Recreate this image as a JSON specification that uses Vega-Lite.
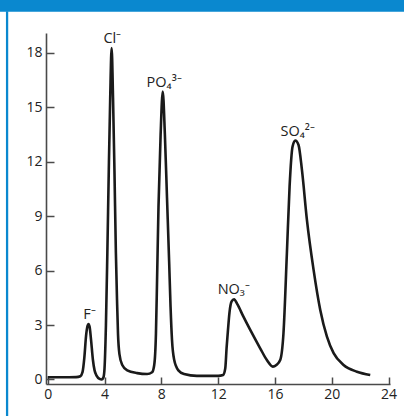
{
  "$schema": "https://vega.github.io/schema/vega-lite/v6.json",
  "width": 344,
  "height": 351,
  "autosize": {"type": "none"},
  "padding": {"left": 46, "top": 33, "right": 14, "bottom": 32},
  "background": "white",
  "config": {
    "view": {"stroke": null},
    "font": "Open Sans",
    "axis": {
      "grid": false,
      "domainColor": "#4a4a4a",
      "domainWidth": 1.6,
      "tickColor": "#4a4a4a",
      "tickWidth": 1.5,
      "labelColor": "#222222",
      "labelFontSize": 14,
      "labelFont": "Open Sans",
      "title": null
    }
  },
  "datasets": {
    "trace": [
      {"t": 0.0, "s": 0.12}, {"t": 1.0, "s": 0.12}, {"t": 2.0, "s": 0.13}, {"t": 2.3, "s": 0.18},
      {"t": 2.45, "s": 0.4}, {"t": 2.58, "s": 1.2}, {"t": 2.7, "s": 2.4}, {"t": 2.8, "s": 2.95},
      {"t": 2.87, "s": 3.06}, {"t": 2.95, "s": 2.9}, {"t": 3.05, "s": 2.2}, {"t": 3.18, "s": 1.1},
      {"t": 3.3, "s": 0.5}, {"t": 3.45, "s": 0.2}, {"t": 3.65, "s": 0.03}, {"t": 3.8, "s": 0.0},
      {"t": 3.92, "s": 0.1}, {"t": 4.0, "s": 0.6}, {"t": 4.1, "s": 3.0}, {"t": 4.2, "s": 7.0},
      {"t": 4.3, "s": 11.5}, {"t": 4.4, "s": 15.5}, {"t": 4.5, "s": 18.27}, {"t": 4.6, "s": 15.5},
      {"t": 4.7, "s": 11.5}, {"t": 4.8, "s": 7.0}, {"t": 4.88, "s": 4.4}, {"t": 4.95, "s": 2.5},
      {"t": 5.05, "s": 1.4}, {"t": 5.25, "s": 0.8}, {"t": 5.6, "s": 0.5}, {"t": 6.3, "s": 0.35},
      {"t": 7.0, "s": 0.3}, {"t": 7.35, "s": 0.4}, {"t": 7.5, "s": 0.8}, {"t": 7.62, "s": 2.5},
      {"t": 7.7, "s": 5.5}, {"t": 7.8, "s": 9.5}, {"t": 7.95, "s": 13.5}, {"t": 8.1, "s": 15.87},
      {"t": 8.25, "s": 13.5}, {"t": 8.4, "s": 10.0}, {"t": 8.55, "s": 6.5}, {"t": 8.65, "s": 4.0},
      {"t": 8.75, "s": 2.2}, {"t": 8.9, "s": 1.1}, {"t": 9.2, "s": 0.5}, {"t": 9.6, "s": 0.3},
      {"t": 10.5, "s": 0.2}, {"t": 12.0, "s": 0.2}, {"t": 12.35, "s": 0.25}, {"t": 12.5, "s": 0.6},
      {"t": 12.6, "s": 1.8}, {"t": 12.68, "s": 2.6}, {"t": 12.8, "s": 3.7}, {"t": 12.95, "s": 4.3},
      {"t": 13.12, "s": 4.42}, {"t": 13.35, "s": 4.15}, {"t": 13.78, "s": 3.46}, {"t": 14.26, "s": 2.73},
      {"t": 14.96, "s": 1.72}, {"t": 15.43, "s": 1.07}, {"t": 15.85, "s": 0.71}, {"t": 16.1, "s": 0.8},
      {"t": 16.37, "s": 1.07}, {"t": 16.6, "s": 2.55}, {"t": 16.84, "s": 6.96}, {"t": 17.03, "s": 10.63},
      {"t": 17.24, "s": 12.84}, {"t": 17.43, "s": 13.17}, {"t": 17.66, "s": 12.93}, {"t": 17.9, "s": 11.55},
      {"t": 18.25, "s": 8.8}, {"t": 18.72, "s": 6.04}, {"t": 19.19, "s": 3.83}, {"t": 19.66, "s": 2.36},
      {"t": 20.13, "s": 1.45}, {"t": 20.83, "s": 0.8}, {"t": 21.77, "s": 0.43}, {"t": 22.71, "s": 0.25}
    ],
    "ions": [
      {"ion": "F⁻", "t": 2.95, "s": 3.06},
      {"ion": "Cl⁻", "t": 4.55, "s": 18.27},
      {"ion": "PO₄³⁻", "t": 8.2, "s": 15.87},
      {"ion": "NO₃⁻", "t": 13.1, "s": 4.42},
      {"ion": "SO₄²⁻", "t": 17.6, "s": 13.17}
    ]
  },
  "layer": [
    {
      "data": {"values": [{}]},
      "mark": {"type": "rect", "color": "#0a88cf"},
      "encoding": {
        "x": {"datum": -3.6, "type": "quantitative", "scale": {"domain": [-0.12, 24.1]}},
        "x2": {"datum": 25.5},
        "y": {"datum": 20.27, "type": "quantitative", "scale": {"domain": [-0.25, 19.1]}},
        "y2": {"datum": 21.6}
      }
    },
    {
      "data": {"values": [{}]},
      "mark": {"type": "rect", "color": "#0a88cf"},
      "encoding": {
        "x": {"datum": -2.94, "type": "quantitative"},
        "x2": {"datum": -2.78},
        "y": {"datum": 20.3, "type": "quantitative"},
        "y2": {"datum": -2.3}
      }
    },
    {
      "data": {"name": "trace"},
      "mark": {"type": "line", "interpolate": "monotone", "color": "#1a1a1a", "strokeWidth": 2.6},
      "encoding": {
        "x": {
          "field": "t", "type": "quantitative",
          "scale": {"domain": [-0.12, 24.1], "nice": false, "zero": false},
          "axis": {"values": [0, 4, 8, 12, 16, 20, 24], "tickSize": -7, "labelPadding": 10, "labelFlush": false}
        },
        "y": {
          "field": "s", "type": "quantitative",
          "scale": {"domain": [-0.25, 19.1], "nice": false, "zero": false},
          "axis": {"values": [0, 3, 6, 9, 12, 15, 18], "tickSize": -8, "labelPadding": 12, "labelFlush": false}
        }
      }
    },
    {
      "data": {"name": "ions"},
      "mark": {"type": "text", "baseline": "bottom", "align": "center", "dy": -2, "fontSize": 14.5, "font": "Open Sans", "color": "#222222"},
      "encoding": {
        "x": {"field": "t", "type": "quantitative"},
        "y": {"field": "s", "type": "quantitative"},
        "text": {"field": "ion"}
      }
    }
  ]
}
